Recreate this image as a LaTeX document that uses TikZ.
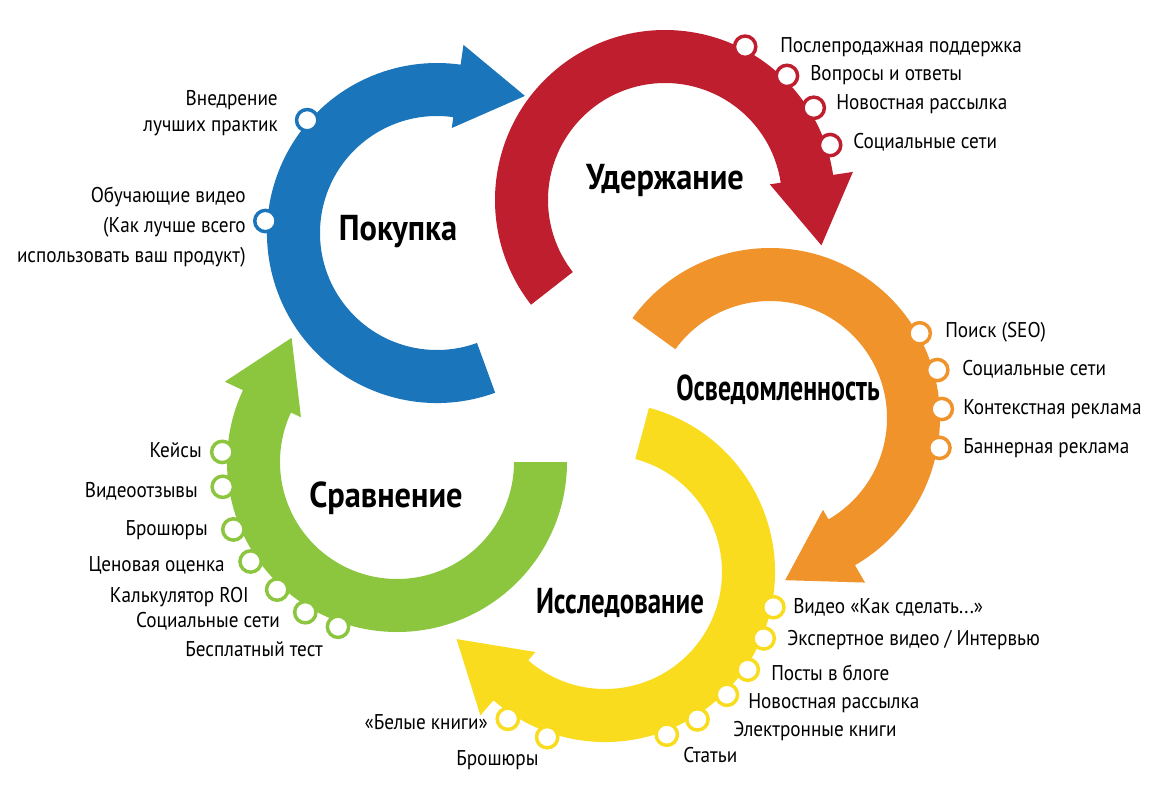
\documentclass[tikz,border=0pt]{standalone}
\usepackage{fontspec}
\setmainfont{PT Sans}[FakeStretch=0.9]
\newfontfamily\titlefont{PT Sans}[FakeStretch=0.9]
\usetikzlibrary{calc,positioning}

\definecolor{buyblue}{RGB}{27,117,187}
\definecolor{keepred}{RGB}{190,30,45}
\definecolor{awareorange}{RGB}{240,147,43}
\definecolor{studyyellow}{RGB}{249,220,30}
\definecolor{cmpgreen}{RGB}{140,198,63}

% colour, centre, tail angle, head angle
\newcommand{\ringarrow}[4]{%
  \fill[#1] ($(#2)+(#3:170)$) arc[start angle=#3, end angle=#4, radius=170]
    -- ($(#2)+(#4:190)$) -- ($(#2)+(#4:148)+({#4+90}:68)$) -- ($(#2)+(#4:106)$)
    -- ($(#2)+(#4:117)$) arc[start angle=#4, end angle=#3, radius=117] -- cycle;}

\tikzset{item/.style={font=\fontsize{16}{20}\selectfont, inner sep=0pt, text height=11pt, text depth=3pt}}
\tikzset{itemblock/.style={font=\fontsize{16}{20}\selectfont, inner sep=0pt, align=right, anchor=east}}
\tikzset{stage/.style={font=\titlefont\bfseries\fontsize{27}{30}\selectfont, anchor=base}}
\tikzset{ringdot/.style={circle, fill=white, draw=#1, line width=2.6pt, minimum size=16pt, inner sep=0pt}}

\begin{document}
\begin{tikzpicture}[x=0.75pt, y=-0.75pt]
  \useasboundingbox (0,0) rectangle (1153,800);

  % ring centres
  \coordinate (buy) at (437,233);
  \coordinate (keep) at (665,200);
  \coordinate (aware) at (770,418);
  \coordinate (study) at (605,572);
  \coordinate (cmp) at (397,462);

  % the five arrows
  \ringarrow{buyblue}{buy}{70}{278}
  \ringarrow{keepred}{keep}{142}{351.5}
  \ringarrow{awareorange}{aware}{216}{420}
  \ringarrow{studyyellow}{study}{285}{491}
  \ringarrow{cmpgreen}{cmp}{0}{205}

  % stage names
  \node (sbuy) at (398,240) [stage] {Покупка};
  \node (skeep) at (665,189) [stage] {Удержание};
  \node (saware) at (778,400) [stage] {\scalebox{0.8}[1]{Осведомленность}};
  \node (sstudy) at (620,613) [stage] {\scalebox{0.83}[1]{Исследование}};
  \node (scmp) at (386,507) [stage] {Сравнение};

  % markers
  \node (b1) at ($(buy)+(221:172)$) [ringdot=buyblue] {};
  \node (b2) at ($(buy)+(184:172)$) [ringdot=buyblue] {};
  \node (r1) at ($(keep)+(297.6:173)$) [ringdot=keepred] {};
  \node (r2) at ($(keep)+(314.5:174)$) [ringdot=keepred] {};
  \node (r3) at ($(keep)+(328.2:175)$) [ringdot=keepred] {};
  \node (r4) at ($(keep)+(341.6:174)$) [ringdot=keepred] {};
  \node (o1) at ($(aware)+(330.5:172)$) [ringdot=awareorange] {};
  \node (o2) at ($(aware)+(344:174)$) [ringdot=awareorange] {};
  \node (o3) at ($(aware)+(357:172)$) [ringdot=awareorange] {};
  \node (o4) at ($(aware)+(10:172)$) [ringdot=awareorange] {};
  \node (y1) at ($(study)+(11.8:172)$) [ringdot=studyyellow] {};
  \node (y2) at ($(study)+(22.7:172)$) [ringdot=studyyellow] {};
  \node (y3) at ($(study)+(34.4:173)$) [ringdot=studyyellow] {};
  \node (y4) at ($(study)+(45.2:173)$) [ringdot=studyyellow] {};
  \node (y5) at ($(study)+(57.9:174)$) [ringdot=studyyellow] {};
  \node (y6) at ($(study)+(69.2:174)$) [ringdot=studyyellow] {};
  \node (y7) at ($(study)+(109.3:175)$) [ringdot=studyyellow] {};
  \node (y8) at ($(study)+(123.5:176)$) [ringdot=studyyellow] {};
  \node (g1) at ($(cmp)+(183.3:175)$) [ringdot=cmpgreen] {};
  \node (g2) at ($(cmp)+(171.9:176)$) [ringdot=cmpgreen] {};
  \node (g3) at ($(cmp)+(157.6:177)$) [ringdot=cmpgreen] {};
  \node (g4) at ($(cmp)+(145.8:177)$) [ringdot=cmpgreen] {};
  \node (g5) at ($(cmp)+(133.2:175)$) [ringdot=cmpgreen] {};
  \node (g6) at ($(cmp)+(121.4:176)$) [ringdot=cmpgreen] {};
  \node (g7) at ($(cmp)+(109.7:175)$) [ringdot=cmpgreen] {};

  % labels
  \node (lb1) at (278,113) [itemblock] {Внедрение\\лучших практик};
  \node (lb2) at (246,227) [itemblock, font=\fontsize{16}{22.5}\selectfont] {Обучающие видео\\(Как лучше всего\\использовать ваш продукт)};
  \node (lr1) at (780,47) [item, anchor=west] {Послепродажная поддержка};
  \node (lr2) at (810,75) [item, anchor=west] {Вопросы и ответы};
  \node (lr3) at (836,104) [item, anchor=west] {Новостная рассылка};
  \node (lr4) at (853,143) [item, anchor=west] {Социальные сети};
  \node (lo1) at (945,332) [item, anchor=west] {Поиск (SEO)};
  \node (lo2) at (962,370) [item, anchor=west] {Социальные сети};
  \node (lo3) at (963,409) [item, anchor=west] {Контекстная реклама};
  \node (lo4) at (963,448) [item, anchor=west] {Баннерная реклама};
  \node (ly1) at (793,608) [item, anchor=west] {Видео «Как сделать...»};
  \node (ly2) at (787,640) [item, anchor=west] {Экспертное видео / Интервью};
  \node (ly3) at (771,675) [item, anchor=west] {Посты в блоге};
  \node (ly4) at (748,703) [item, anchor=west] {Новостная рассылка};
  \node (ly5) at (733,731) [item, anchor=west] {Электронные книги};
  \node (ly6) at (683,757) [item, anchor=west] {Статьи};
  \node (ly7) at (456,760) [item, anchor=west] {Брошюры};
  \node (ly8) at (488,724) [item, anchor=east] {«Белые книги»};
  \node (lg1) at (202,452) [item, anchor=east] {Кейсы};
  \node (lg2) at (198,492) [item, anchor=east] {Видеоотзывы};
  \node (lg3) at (208,530) [item, anchor=east] {Брошюры};
  \node (lg4) at (225,566) [item, anchor=east] {Ценовая оценка};
  \node (lg5) at (249,597) [item, anchor=east] {Калькулятор ROI};
  \node (lg6) at (280,622) [item, anchor=east] {Социальные сети};
  \node (lg7) at (323,651) [item, anchor=east] {Бесплатный тест};
\end{tikzpicture}
\end{document}
